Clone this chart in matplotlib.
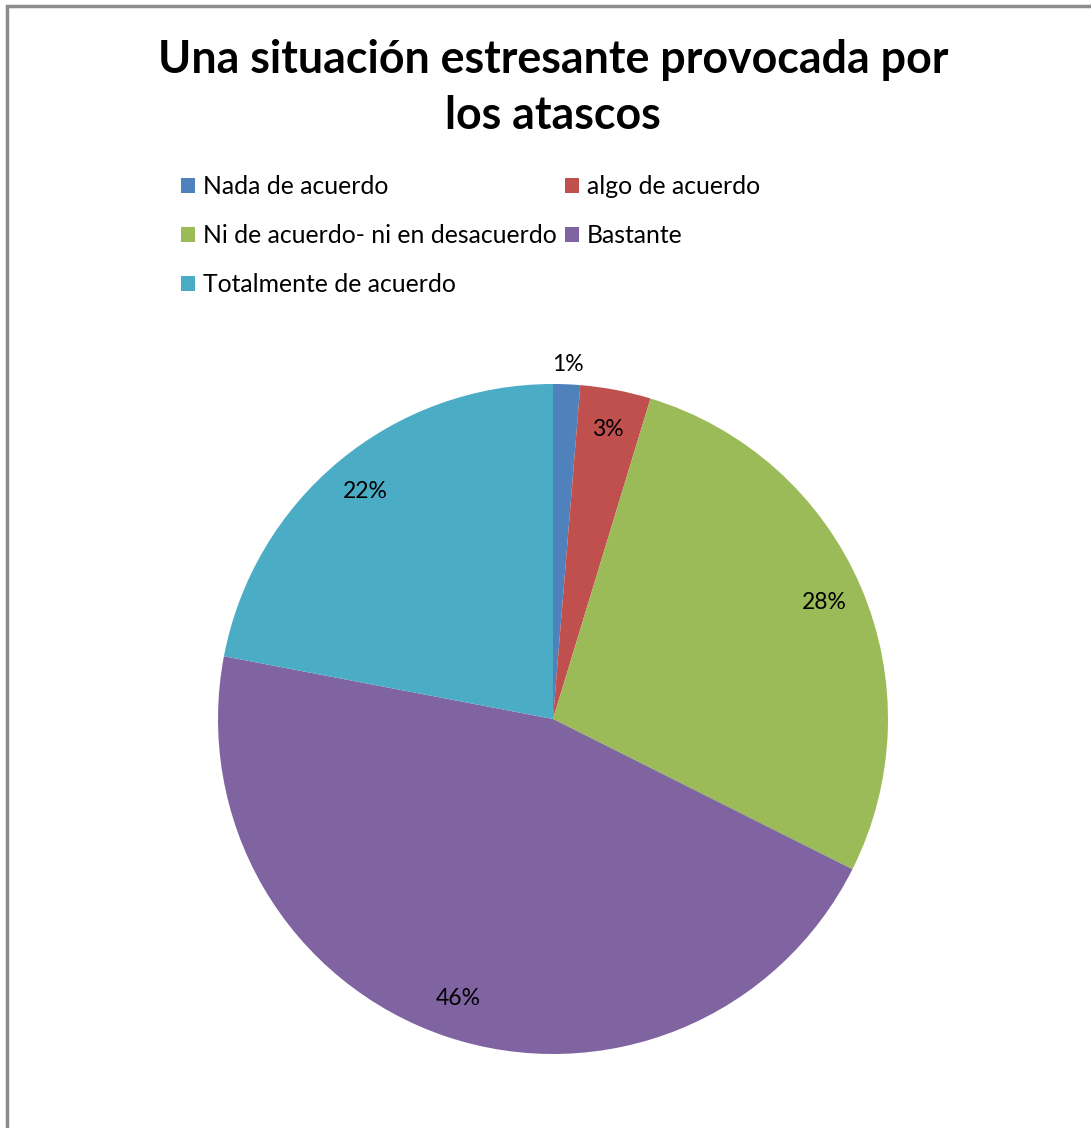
import matplotlib.pyplot as plt
from matplotlib.patches import Rectangle
import numpy as np

# data
categories = ["Nada de acuerdo", "algo de acuerdo", "Ni de acuerdo- ni en desacuerdo",
              "Bastante", "Totalmente de acuerdo"]
values = [1.3, 3.4, 27.7, 45.6, 22.0]
colors = ["#4F81BD", "#C0504D", "#9BBB59", "#8064A2", "#4BACC6"]
title = "Una situación estresante provocada por\nlos atascos"

plt.rcParams['font.family'] = ['Lato', 'DejaVu Sans']

fig = plt.figure(figsize=(10.91, 11.28), dpi=100)
W, H = 1091, 1128

# chart frame (gray border, runs off right/bottom)
fig.patches.append(Rectangle((7 / W, -0.01), 1.2, 1 - 6 / H + 0.01, transform=fig.transFigure,
                             fill=False, edgecolor="#8C8C8C", linewidth=2.5))

fig.text(553 / W, 1 - 88 / H, title, ha="center", va="center", fontsize=32.2,
         fontweight="bold", linespacing=1.4)

# pie
cx, cy, r = 553, 719, 335
ax = fig.add_axes([(cx - r) / W, (H - cy - r) / H, 2 * r / W, 2 * r / H])
wedges, texts, autotexts = ax.pie(values, colors=colors, startangle=90, counterclock=False,
                                  autopct=lambda p: "%d%%" % round(p), pctdistance=0.88,
                                  radius=1.0, textprops={"fontsize": 16.5})
# smallest slice label sits outside
w0 = wedges[0]
ang = np.deg2rad((w0.theta1 + w0.theta2) / 2)
autotexts[0].set_position((1.06 * np.cos(ang), 1.06 * np.sin(ang)))
ax.set_xlim(-1, 1)
ax.set_ylim(-1, 1)
ax.set_aspect("equal")

order = [0, 2, 4, 1, 3]
leg = fig.legend([wedges[i] for i in order], [categories[i] for i in order],
                 loc="upper left", bbox_to_anchor=(181 / W, 1 - 175 / H), ncol=2,
                 frameon=False, fontsize=17.8, handlelength=0.58, handleheight=0.58,
                 handletextpad=0.33, columnspacing=0.3, labelspacing=1.05,
                 borderaxespad=0, borderpad=0)

fig.savefig("out.png", dpi=100)
